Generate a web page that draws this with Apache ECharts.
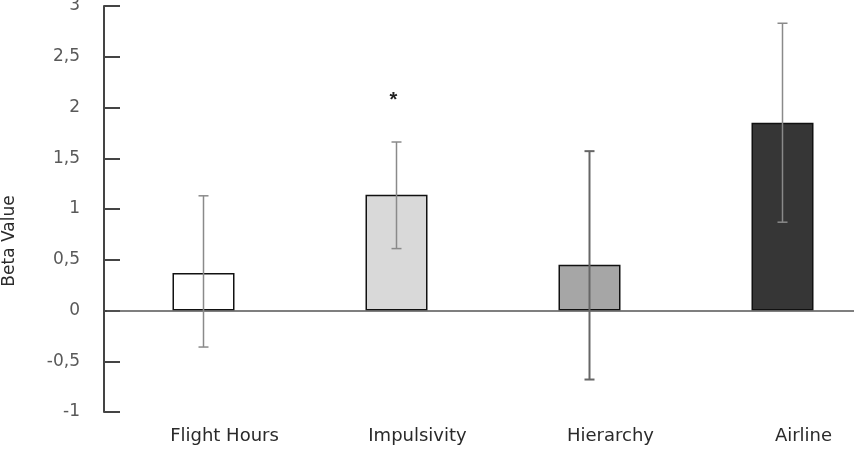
<!DOCTYPE html>
<html>
<head>
<meta charset="utf-8">
<script src="https://cdn.jsdelivr.net/npm/echarts@6/dist/echarts.min.js"></script>
<style>
  html, body { margin: 0; padding: 0; background: #fff; }
  #chart { width: 854px; height: 457px; }
</style>
</head>
<body>
<div id="chart"></div>
<script>
const categories = ["Flight Hours", "Impulsivity", "Hierarchy", "Airline"];
const betaValues = [0.37, 1.14, 0.45, 1.85];
const errLow = [-0.36, 0.61, -0.68, 0.87];
const errHigh = [1.13, 1.66, 1.57, 2.83];
const sigMarks = ["", "*", "", ""];
const barColors = ["#ffffff", "#d9d9d9", "#a6a6a6", "#363636"];

const chart = echarts.init(document.getElementById("chart"));

const errData = categories.map((c, i) => [i, errLow[i], errHigh[i], sigMarks[i]]);

chart.setOption({
  animation: false,
  textStyle: { fontFamily: "DejaVu Sans" },
  grid: { left: 107, top: 6, width: 772, height: 406, outerBoundsMode: "none", containLabel: false },
  xAxis: {
    type: "category",
    data: categories,
    axisLine: { show: false, onZero: false },
    axisTick: { show: false },
    axisLabel: { color: "#2a2a2a", fontSize: 18, margin: 15, padding: [0, 0, 0, 42] }
  },
  yAxis: {
    type: "value",
    min: -1,
    max: 3,
    interval: 0.5,
    offset: 3,
    name: "Beta Value",
    nameLocation: "middle",
    nameGap: 86,
    nameTextStyle: { color: "#2a2a2a", fontSize: 17, padding: [0, 64, 0, 0] },
    splitLine: { show: false },
    axisLine: { show: true, lineStyle: { color: "#444", width: 2 } },
    axisTick: { show: true, inside: true, length: 16, lineStyle: { color: "#444", width: 2 } },
    axisLabel: {
      color: "#595959",
      fontSize: 17,
      margin: 24,
      formatter: v => String(v).replace(".", ",")
    }
  },
  series: [
    {
      type: "bar",
      barWidth: 62,
      data: betaValues.map((v, i) => ({
        value: v,
        itemStyle: { color: barColors[i], borderColor: "#111", borderWidth: 1.5 }
      })),
      markLine: {
        silent: true,
        symbol: "none",
        label: { show: false },
        lineStyle: { type: "solid", color: "#555", width: 1.5 },
        data: [{ yAxis: 0 }]
      },
      z: 2
    },
    {
      type: "custom",
      data: errData,
      z: 5,
      renderItem: function (params, api) {
        const x = api.value(0);
        const lo = api.coord([x, api.value(1)]);
        const hi = api.coord([x, api.value(2)]);
        const cap = 5;
        const dark = params.dataIndex === 2;
        const style = { stroke: dark ? "#666" : "#8a8a8a", lineWidth: dark ? 2 : 1.5 };
        const children = [
          { type: "line", shape: { x1: hi[0], y1: hi[1], x2: lo[0], y2: lo[1] }, style: style },
          { type: "line", shape: { x1: hi[0] - cap, y1: hi[1], x2: hi[0] + cap, y2: hi[1] }, style: style },
          { type: "line", shape: { x1: lo[0] - cap, y1: lo[1], x2: lo[0] + cap, y2: lo[1] }, style: style }
        ];
        const mark = api.value(3);
        if (mark) {
          children.push({
            type: "text",
            x: hi[0] - 3,
            y: hi[1] - 42,
            style: { text: mark, fill: "#222", fontSize: 20, fontWeight: "bold", align: "center", verticalAlign: "middle" }
          });
        }
        return { type: "group", children: children };
      }
    }
  ]
});
</script>
</body>
</html>
